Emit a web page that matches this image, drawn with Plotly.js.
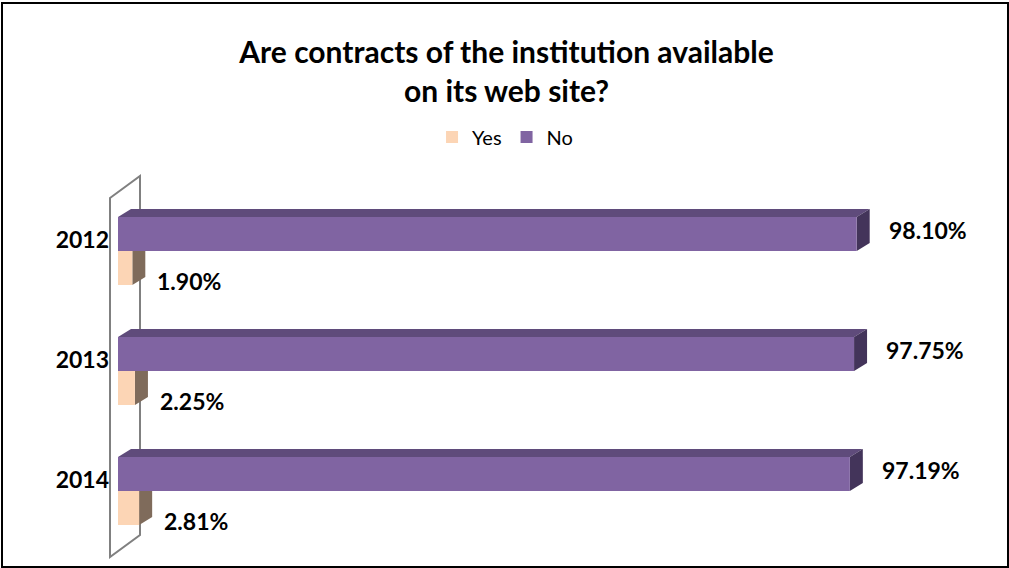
<!DOCTYPE html>
<html>
<head>
<meta charset="utf-8">
<script src="https://cdn.plot.ly/plotly-3.0.1.min.js"></script>
<style>
  html, body { margin: 0; padding: 0; background: #fff; }
  #wrap { position: relative; width: 1009px; height: 568px; }
  #chart { width: 1009px; height: 568px; }
  #frame { position: absolute; left: 1px; top: 2px; width: 1004px; height: 562px;
           border: 2px solid #000; pointer-events: none; }
</style>
</head>
<body>
<div id="wrap"><div id="chart"></div><div id="frame"></div></div>
<script>
// ---- data ----
const years = ['2012', '2013', '2014'];
const yesValues = [1.90, 2.25, 2.81];
const noValues = [98.10, 97.75, 97.19];
const seriesNames = ['Yes', 'No'];
const yearOrderBottomUp = ['2014', '2013', '2012'];

// ---- styling / layout constants ----
const W = 1009, H = 568;
const M = { l: 118, r: 138, t: 191, b: 17 };
const plotW = W - M.l - M.r, plotH = H - M.t - M.b;
const xMax = 100;
const bargap = 0.433;
const barW = (1 - bargap) / 2;
const depthPx = { x: 13, y: 8 };
const dx = depthPx.x * xMax / plotW;
const dy = depthPx.y * yearOrderBottomUp.length / plotH;
const FONT = 'Lato, "Liberation Sans", Arial, sans-serif';
const C = {
  yes: '#FCD5B5', yesSide: '#7F6B5B',
  no: '#8064A2', noTop: '#5F4B7B', noSide: '#43345A'
};

const traces = [
  { type: 'bar', orientation: 'h', name: seriesNames[0], y: years, x: yesValues,
    marker: { color: C.yes, line: { width: 0 } }, hoverinfo: 'x' },
  { type: 'bar', orientation: 'h', name: seriesNames[1], y: years, x: noValues,
    marker: { color: C.no, line: { width: 0 } }, hoverinfo: 'x' }
];

const shapes = [];
const annotations = [];

// left side wall (decoration, behind the bars), defined in pixel space then mapped to paper
const px = v => (v - M.l) / plotW;
const py = v => (H - M.b - v) / plotH;
shapes.push({ type: 'path', xref: 'paper', yref: 'paper', layer: 'below',
  line: { color: '#808080', width: 2 }, fillcolor: 'rgba(0,0,0,0)',
  path: `M${px(110)},${py(198)} L${px(140)},${py(176)} L${px(140)},${py(535)} L${px(110)},${py(557)} Z` });

const labelFont = { family: FONT, size: 23, weight: 700, color: '#000' };
years.forEach((yr, i) => {
  const c = yearOrderBottomUp.indexOf(yr);
  const vy = yesValues[i], vn = noValues[i];
  // No bar: top and side faces
  shapes.push({ type: 'path', xref: 'x', yref: 'y', layer: 'below', line: { width: 0 },
    fillcolor: C.noTop,
    path: `M0,${c + barW} L${vn},${c + barW} L${vn + dx},${c + barW + dy} L${dx},${c + barW + dy} Z` });
  shapes.push({ type: 'path', xref: 'x', yref: 'y', layer: 'below', line: { width: 0 },
    fillcolor: C.noSide,
    path: `M${vn},${c} L${vn},${c + barW} L${vn + dx},${c + barW + dy} L${vn + dx},${c + dy} Z` });
  // Yes bar: side face
  shapes.push({ type: 'path', xref: 'x', yref: 'y', layer: 'below', line: { width: 0 },
    fillcolor: C.yesSide,
    path: `M${vy},${c - barW} L${vy},${c} L${vy + dx},${c + dy} L${vy + dx},${c - barW + dy} Z` });
  // labels
  annotations.push({ xref: 'x', yref: 'y', x: vn, y: c + barW / 2, xanchor: 'left', yanchor: 'middle',
    xshift: 30, yshift: 4, showarrow: false, text: vn.toFixed(2) + '%', font: labelFont });
  annotations.push({ xref: 'x', yref: 'y', x: vy, y: c - barW / 2, xanchor: 'left', yanchor: 'middle',
    xshift: 23, yshift: -13, showarrow: false, text: vy.toFixed(2) + '%', font: labelFont });
});

const layout = {
  width: W, height: H,
  margin: M,
  paper_bgcolor: '#fff', plot_bgcolor: 'rgba(0,0,0,0)',
  barmode: 'group', bargap: bargap, bargroupgap: 0,
  showlegend: true,
  title: {
    text: 'Are contracts of the institution available<br>on its web site?',
    font: { family: FONT, size: 30, weight: 700, color: '#000' },
    xref: 'container', x: 0.502, yref: 'container', y: 0.889, yanchor: 'top'
  },
  legend: {
    orientation: 'h', x: 0.514, xanchor: 'center', y: (H - M.b - 137) / plotH, yanchor: 'middle',
    font: { family: FONT, size: 20, color: '#000' }, bgcolor: 'rgba(0,0,0,0)', itemclick: false
  },
  xaxis: { range: [0, xMax], showgrid: false, zeroline: false, showline: false,
    showticklabels: false, ticks: '', fixedrange: true },
  yaxis: { type: 'category', categoryorder: 'array', categoryarray: yearOrderBottomUp,
    range: [-0.5, yearOrderBottomUp.length - 0.5],
    showgrid: false, zeroline: false, showline: false, ticks: '',
    tickfont: { family: FONT, size: 23, weight: 700, color: '#000' },
    ticklabelshift: -11, ticklabelstandoff: 8, fixedrange: true },
  shapes: shapes,
  annotations: annotations
};

Plotly.newPlot('chart', traces, layout, { displayModeBar: false, staticPlot: true });
</script>
</body>
</html>
